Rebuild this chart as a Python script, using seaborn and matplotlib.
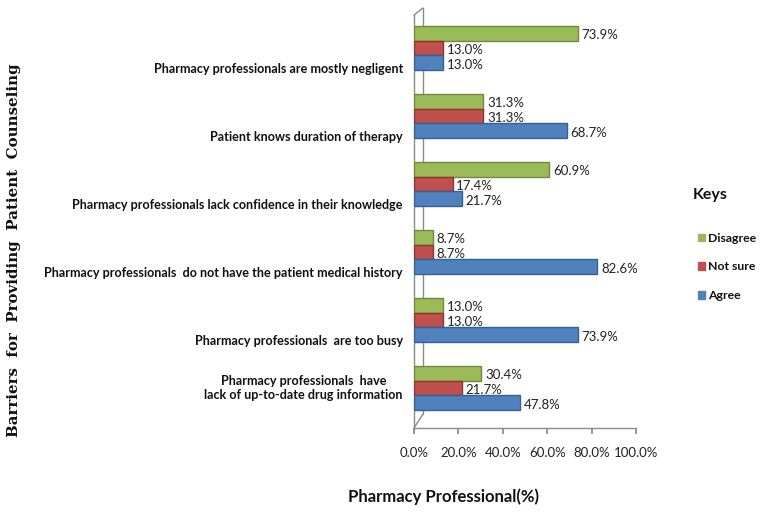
import matplotlib
matplotlib.use("Agg")
import matplotlib.pyplot as plt
import matplotlib.transforms as mtransforms
import seaborn as sns
import pandas as pd

categories = [
    "Pharmacy professionals are mostly negligent",
    "Patient knows duration of therapy",
    "Pharmacy professionals lack confidence in their knowledge",
    "Pharmacy professionals  do not have the patient medical history",
    "Pharmacy professionals  are too busy",
    "Pharmacy professionals  have\nlack of up-to-date drug information",
]
disagree = [73.9, 31.3, 60.9, 8.7, 13.0, 30.4]
not_sure = [13.0, 31.3, 17.4, 8.7, 13.0, 21.7]
agree = [13.0, 68.7, 21.7, 82.6, 73.9, 47.8]
keys = ["Disagree", "Not sure", "Agree"]
xticks = [0, 20, 40, 60, 80, 100]
xtick_labels = ["0.0%", "20.0%", "40.0%", "60.0%", "80.0%", "100.0%"]

colors = {"Disagree": "#9BBB59", "Not sure": "#C0504D", "Agree": "#4F81BD"}
edges = {"Disagree": "#6E8A3A", "Not sure": "#8C3331", "Agree": "#35608F"}

rows = []
for c, d, n, a in zip(categories, disagree, not_sure, agree):
    rows.append((c, "Disagree", d))
    rows.append((c, "Not sure", n))
    rows.append((c, "Agree", a))
df = pd.DataFrame(rows, columns=["cat", "key", "val"])

sns.set_theme(style="white")
plt.rcParams["font.family"] = ["Lato", "DejaVu Sans"]

W, H = 762, 515
ax_l, ax_r, ax_t, ax_b = 414, 636, 15, 428
fig = plt.figure(figsize=(W / 100, H / 100), dpi=100)
ax = fig.add_axes([ax_l / W, 1 - ax_b / H, (ax_r - ax_l) / W, (ax_b - ax_t) / H])

sns.barplot(data=df, y="cat", x="val", hue="key", order=categories,
            hue_order=keys, palette=colors, orient="h", width=0.66,
            ax=ax, legend=False, saturation=1, zorder=3)

for cont, k in zip(ax.containers, keys):
    for bar in cont:
        bar.set_edgecolor(edges[k])
        bar.set_linewidth(1.0)
        w = bar.get_width()
        y = bar.get_y() + bar.get_height() / 2
        ax.text(w + 1.6, y + 0.03, f"{w:.1f}%", va="center", ha="left",
                fontsize=9.5, color="#222222", zorder=4)

ax.set_xlim(0, 100)
ax.set_ylim(5.588, -0.485)
ax.set_xticks(xticks)
ax.set_xticklabels(xtick_labels, fontsize=9.5, color="#222222")
ax.tick_params(axis="x", length=4, pad=10, color="#888888", direction="out", bottom=True)
ax.set_yticks(range(len(categories)))
ax.set_yticklabels([""] * len(categories))
ax.tick_params(axis="y", length=0)
ax.set_xlabel("")
ax.set_ylabel("")

# category labels (Excel 3D placement: slightly below group centre)
lab_tr = mtransforms.blended_transform_factory(ax.transAxes, ax.transData)
for i, c in enumerate(categories):
    off = 0.0 if "\n" in c else 0.31
    ax.text(-0.05, i + off, c, transform=lab_tr, ha="right", va="center",
            fontsize=9.1, fontweight="bold", color="#111111", linespacing=1.2,
            multialignment="center" if "\n" in c else "right")

for s in ["top", "right"]:
    ax.spines[s].set_visible(False)
for s in ["left", "bottom"]:
    ax.spines[s].set_color("#8a8a8a")
    ax.spines[s].set_linewidth(1.0)

# 3D wall edges
dx = 9 / (ax_r - ax_l)
hh = ax_b - ax_t
lc = dict(transform=ax.transAxes, color="#8a8a8a", lw=1.0, clip_on=False, zorder=1)
ax.plot([0, dx], [1.0, 1.0 + 7 / hh], **lc)
ax.plot([dx, dx], [1.0 + 7 / hh, 14 / hh], **lc)
ax.plot([0, dx], [0.0, 14 / hh], **lc)

fig.text(444 / W, 1 - 497 / H, "Pharmacy Professional(%)", ha="center",
         va="center", fontsize=12, fontweight="bold", color="#111111")
fig.text(14 / W, 1 - 250 / H, "Barriers  for  Providing  Patient  Counseling",
         rotation=90, ha="center", va="center", fontsize=10.8, fontweight="bold",
         family=["DejaVu Serif"], color="#111111")

fig.text(693 / W, 1 - 195 / H, "Keys", ha="left", va="center",
         fontsize=11.5, fontweight="bold", color="#111111")
handles = [plt.Rectangle((0, 0), 1, 1, color=colors[k]) for k in keys]
leg = fig.legend(handles, keys, loc="center left",
                 bbox_to_anchor=(698 / W, 1 - 267 / H), frameon=False,
                 prop={"size": 8.8, "weight": "bold"}, borderpad=0,
                 borderaxespad=0, handlelength=0.6, handleheight=0.6,
                 handletextpad=0.25, labelspacing=1.45)
for t in leg.get_texts():
    t.set_color("#111111")

fig.savefig("out.png", dpi=100)
